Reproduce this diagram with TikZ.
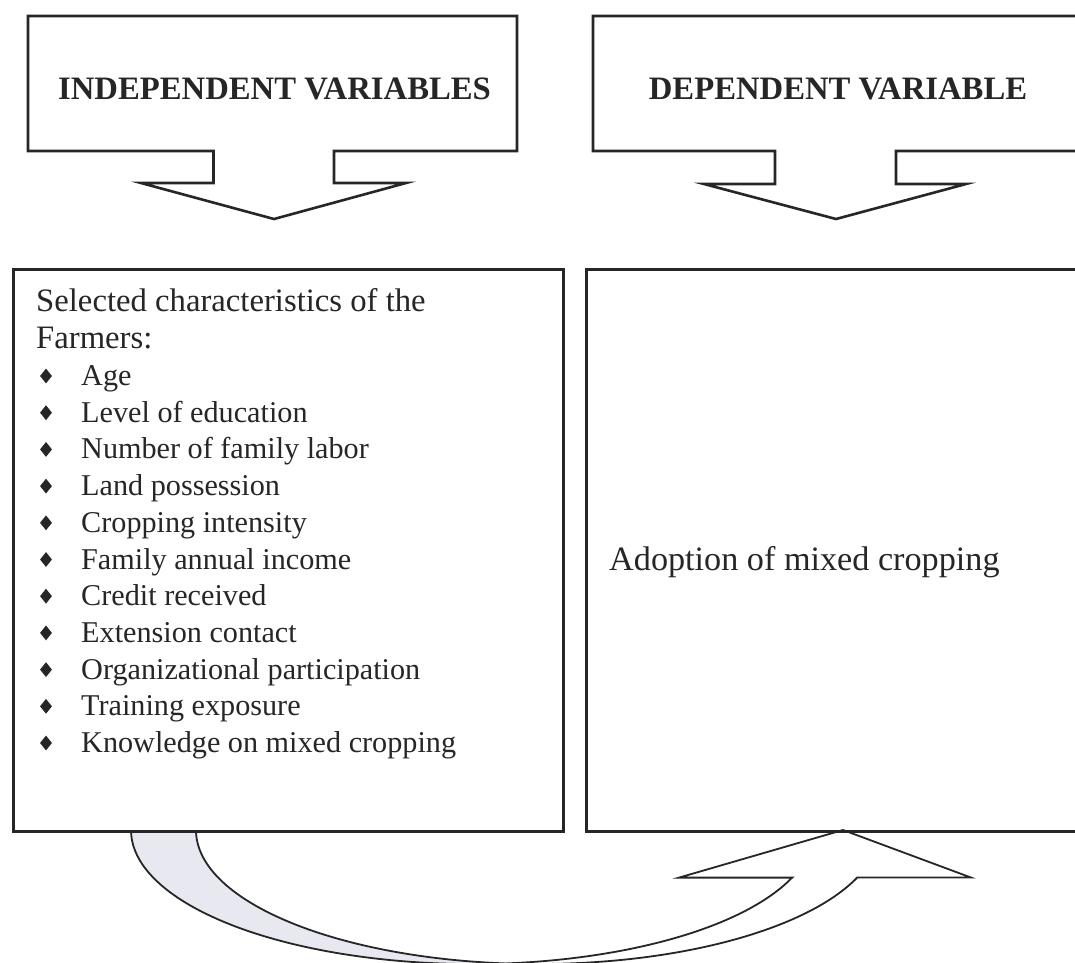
\documentclass[tikz,border=0pt]{standalone}
\usepackage{fontspec}
\setmainfont{Liberation Serif}
\usepackage{xcolor}
\usepackage{tikz}
\usetikzlibrary{positioning,shapes.geometric}
\definecolor{ink}{RGB}{38,38,38}
\definecolor{backside}{RGB}{232,232,240}

\begin{document}
\begin{tikzpicture}[x=1pt, y=-1pt,
  every node/.style={font=\fontsize{32.7}{36.7}\selectfont, text=ink, inner sep=0pt},
  hd/.style={font=\fontsize{32.7}{36.7}\selectfont\bfseries, anchor=base},
  txt/.style={anchor=base west},
  itm/.style={txt, font=\fontsize{30.2}{36.7}\selectfont},
  bul/.style={diamond, fill=ink, minimum width=12pt, minimum height=15pt},
  frame/.style={draw=ink, line width=2.6pt},
  cbox/.style={frame, rectangle, anchor=north west},
  band/.style={draw=ink, line width=1.8pt, line join=miter},
  ell/.style={x radius=341.7, y radius=134}
]
  \fill[white] (0,0) rectangle (1075,962);
  \useasboundingbox (0,0) rectangle (1075,962);

  % heading callouts
  \draw[frame] (28,16) -- (517,16) -- (517,151) -- (334,151) -- (334,183) -- (406,183)
    -- (274,219) -- (141,183) -- (213.5,183) -- (213.5,151) -- (28,151) -- cycle;
  \draw[frame] (593,16) -- (1090,16) -- (1090,151) -- (896,151) -- (896,184) -- (966,184)
    -- (836,219) -- (704,184) -- (775,184) -- (775,151) -- (593,151) -- cycle;
  \node[hd] (indep) at (274.5,99) {INDEPENDENT VARIABLES};
  \node[hd] (dep) at (838,99) {DEPENDENT VARIABLE};

  % curved arrow, back side first
  \coordinate (a0) at (131,830);
  \coordinate (b0) at (196,830);
  \coordinate (tip) at (843,830);
  \fill[backside] (a0) arc[start angle=180, end angle=84.54, ell]
    arc[start angle=95.46, end angle=180, ell] -- cycle;

  % boxes
  \node[cbox, minimum width=550pt, minimum height=562pt] (selbox) at (12,268) {};
  \node[cbox, minimum width=500pt, minimum height=562pt] (adopbox) at (585,268) {};

  \draw[band] (b0) arc[start angle=180, end angle=20.8, ell] -- ++(114,0) -- (tip)
    -- (679,877.6) -- (792.1,877.6) arc[start angle=20.8, end angle=180, ell];

  % texts
  \node[txt] (sel) at (36,311.7) {Selected characteristics of the};
  \node[txt] (farm) at (36,348.4) {Farmers:};
  \foreach \t [count=\i] in {Age, Level of education, Number of family labor,
      Land possession, Cropping intensity, Family annual income, Credit received,
      Extension contact, Organizational participation, Training exposure,
      Knowledge on mixed cropping} {
    \node[itm] (it\i) at (81, 348.8+36.7*\i) {\t};
    \node[bul] (bu\i) at (46, 339.3+36.7*\i) {};
  }
  \node[txt, font=\fontsize{34.2}{36.7}\selectfont] (adop) at (609,570) {Adoption of mixed cropping};
\end{tikzpicture}
\end{document}
